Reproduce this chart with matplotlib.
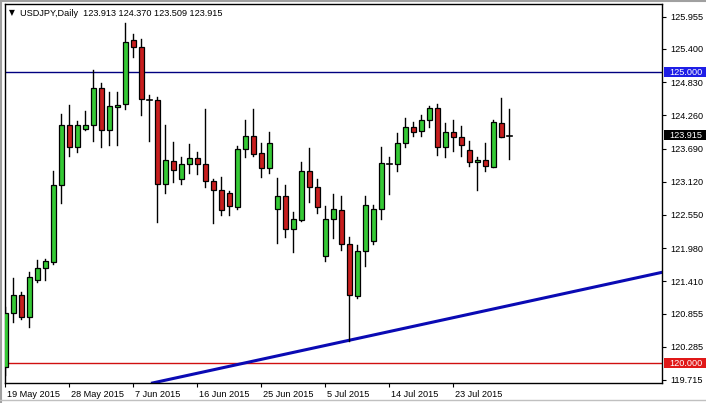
import matplotlib
matplotlib.use("Agg")
import matplotlib.pyplot as plt
import matplotlib.transforms as mtransforms
from matplotlib.patches import Rectangle
from matplotlib.lines import Line2D

# ---------------- data ----------------
opens = [119.941, 120.859, 121.173, 120.790, 121.426, 121.632, 121.745, 123.058, 124.089, 123.711,
         124.020, 124.089, 124.725, 124.003, 124.409, 124.450, 125.550, 125.429, 124.529, 124.524,
         123.075, 123.470, 123.161, 123.419, 123.522, 123.419, 123.127, 122.972, 122.921, 122.680,
         123.677, 123.900, 123.608, 123.350, 122.646, 122.869, 122.302, 122.462, 123.299, 123.024,
         121.838, 122.474, 122.629, 122.044, 121.156, 121.924, 122.096, 122.646, 123.419, 123.419,
         123.780, 124.055, 123.986, 124.175, 124.381, 123.711, 123.969, 123.883, 123.659, 123.453,
         123.488, 123.378, 124.123, 123.913]
highs = [120.972, 121.470, 121.230, 121.563, 121.775, 121.787, 123.304, 124.283, 124.433, 124.163,
         124.335, 125.039, 124.821, 124.666, 124.666, 125.842, 125.658, 125.567, 124.604, 124.570,
         124.094, 123.802, 123.550, 123.768, 123.630, 124.369, 123.161, 123.206, 122.960, 123.733,
         124.180, 124.369, 123.780, 123.974, 123.184, 123.063, 122.599, 123.453, 123.699, 123.161,
         122.697, 122.909, 122.874, 122.170, 122.027, 122.874, 122.714, 123.721, 123.550, 123.962,
         124.214, 124.141, 124.261, 124.421, 124.450, 124.123, 124.180, 124.077, 123.819, 123.539,
         123.780, 124.180, 124.553, 124.370]
lows = [119.799, 120.714, 120.756, 120.618, 121.397, 121.426, 121.711, 122.749, 123.567, 123.635,
        124.008, 123.824, 123.721, 123.756, 123.756, 124.374, 125.268, 124.266, 123.824, 122.433,
        122.931, 123.115, 123.075, 123.275, 123.247, 123.034, 122.405, 122.543, 122.543, 122.646,
        123.539, 123.562, 123.206, 123.275, 122.072, 122.175, 121.917, 122.440, 122.776, 122.577,
        121.752, 122.158, 121.946, 120.388, 121.127, 121.677, 122.044, 122.474, 122.903, 123.309,
        123.721, 123.900, 123.910, 124.065, 123.584, 123.550, 123.653, 123.567, 123.395, 122.977,
        123.309, 123.378, 123.893, 123.509]
closes = [120.859, 121.173, 120.790, 121.477, 121.632, 121.757, 123.063, 124.089, 123.711, 124.089,
          124.089, 124.725, 124.003, 124.415, 124.443, 125.515, 125.429, 124.536, 124.529, 123.075,
          123.488, 123.316, 123.419, 123.522, 123.419, 123.127, 122.972, 122.629, 122.697, 123.677,
          123.900, 123.601, 123.350, 123.780, 122.869, 122.302, 122.474, 123.299, 123.024, 122.680,
          122.474, 122.646, 122.044, 121.168, 121.924, 122.714, 122.646, 123.436, 123.436, 123.780,
          124.055, 123.969, 124.175, 124.381, 123.711, 123.969, 123.883, 123.745, 123.453, 123.488,
          123.395, 124.141, 123.893, 123.915]

date_labels = ["19 May 2015", "28 May 2015", "7 Jun 2015", "16 Jun 2015",
               "25 Jun 2015", "5 Jul 2015", "14 Jul 2015", "23 Jul 2015"]
date_idx = [0, 8, 16, 24, 32, 40, 48, 56]

price_ticks = [125.955, 125.400, 124.830, 124.260, 123.690, 123.120,
               122.550, 121.980, 121.410, 120.855, 120.285, 119.715]

level_high = 125.000
level_low = 120.000
last_price = 123.915
trend_idx = [19, 82]
trend_price = [119.679, 121.560]

header = "USDJPY,Daily  123.913 124.370 123.509 123.915"

# ---------------- styling ----------------
W, H = 706, 403
FONT = "Liberation Sans"
FS = 6.6
GREEN = "#35c935"
RED = "#c81e1e"

fig = plt.figure(figsize=(W / 100, H / 100), dpi=100)
fig.patch.set_facecolor("white")

ax_l, ax_r, ax_t, ax_b = 5, 662, 4, 383
ax = fig.add_axes([ax_l / W, (H - ax_b) / H, (ax_r - ax_l) / W, (ax_b - ax_t) / H])
ax.set_facecolor("white")

n = len(opens)
ax.set_xlim(-0.04, 82.09)
ax.set_ylim(119.661, 126.173)
px_per_unit = (ax_b - ax_t) / (126.173 - 119.661)

# horizontal levels
ax.axhline(level_high, color="#000080", lw=1.0, zorder=1)
ax.axhline(level_low, color="#d01010", lw=1.0, zorder=1)
# trend line
ax.axline((trend_idx[0], trend_price[0]), (trend_idx[1], trend_price[1]),
          color="#0a0ab4", lw=2.2, zorder=2)

bw = 0.62
for i in range(n):
    o, h, l, c = opens[i], highs[i], lows[i], closes[i]
    ax.add_line(Line2D([i, i], [l, h], color="black", lw=1.0, zorder=3))
    if abs(c - o) < 0.02:
        ax.add_line(Line2D([i - bw / 2, i + bw / 2], [o, o], color="black", lw=1.2, zorder=4))
    else:
        col = GREEN if c > o else RED
        ax.add_patch(Rectangle((i - bw / 2, min(o, c)), bw, abs(c - o),
                               facecolor=col, edgecolor="black", lw=0.9, zorder=4))

# axes frame
for s in ax.spines.values():
    s.set_color("black")
    s.set_linewidth(1.0)

# y axis on right
ax.yaxis.tick_right()
ax.set_yticks(price_ticks)
ax.set_yticklabels([f"{v:.3f}" for v in price_ticks], fontfamily=FONT, fontsize=FS)
ax.tick_params(axis="y", direction="out", length=3, width=0.8, pad=3, colors="black")

# x axis dates
ax.set_xticks(date_idx)
ax.set_xticklabels(date_labels, fontfamily=FONT, fontsize=FS, ha="left")
ax.tick_params(axis="x", direction="out", length=3, width=0.8, pad=2)
offset = mtransforms.ScaledTranslation(1.5 / 100, 0, fig.dpi_scale_trans)
for lab in ax.get_xticklabels():
    lab.set_transform(lab.get_transform() + offset)

# highlighted price labels on the right
trans = mtransforms.blended_transform_factory(ax.transAxes, ax.transData)
aw = ax_r - ax_l
half_h = 5.0 / px_per_unit
for val, bg in [(level_high, "#1e1ee6"), (last_price, "black"), (level_low, "#e01818")]:
    ax.add_patch(Rectangle((1.0 + 1.5 / aw, val - half_h), 43 / aw, 2 * half_h,
                           transform=trans, facecolor=bg, edgecolor="none",
                           clip_on=False, zorder=9))
    ax.text(1.0 + 7.5 / aw, val, f"{val:.3f}", transform=trans,
            fontfamily=FONT, fontsize=FS, color="white", va="center", ha="left",
            zorder=10, clip_on=False)

# header text
fig.text(9 / W, 1 - 13 / H, "\u25bc", fontfamily="DejaVu Sans", fontsize=5.5,
         va="center", ha="left", color="black")
fig.text(20 / W, 1 - 13 / H, header, fontfamily=FONT, fontsize=FS,
         va="center", ha="left", color="black")

# window frame
fig.add_artist(Line2D([1 / W, 1 / W], [0, 1], transform=fig.transFigure, color="#a0a0a0", lw=1.5))
fig.add_artist(Line2D([0, 1], [1 - 1 / H, 1 - 1 / H], transform=fig.transFigure, color="#a0a0a0", lw=1.5))
fig.add_artist(Line2D([0, 1], [3 / H, 3 / H], transform=fig.transFigure, color="#c0c0c0", lw=1.0))

fig.savefig("out.png", dpi=100, facecolor="white")
